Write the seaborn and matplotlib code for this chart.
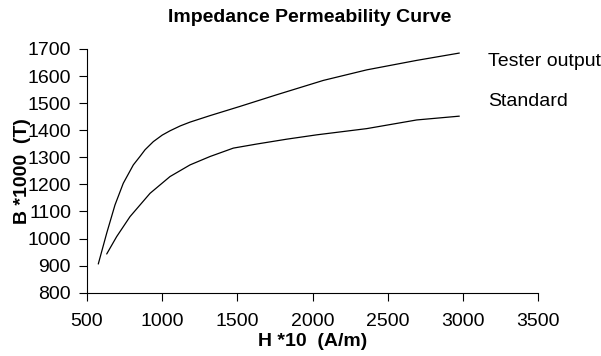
import numpy as np
import pandas as pd
import matplotlib
matplotlib.use('Agg')
import matplotlib.pyplot as plt
import seaborn as sns

# values
tester_h = [575, 631, 686, 741, 808, 852, 886, 941, 1000, 1052, 1120, 1185, 1318, 1517, 1761, 2071, 2360, 2692, 2975]
tester_b = [906, 1020, 1124, 1204, 1272, 1303, 1328, 1358, 1382, 1398, 1416, 1430, 1454, 1488, 1531, 1584, 1623, 1658, 1685]

standard_h = [631, 697, 786, 919, 1052, 1185, 1318, 1473, 1628, 1828, 2027, 2360, 2692, 2975]
standard_b = [943, 1007, 1081, 1167, 1229, 1272, 1303, 1334, 1349, 1367, 1383, 1406, 1438, 1452]

x_ticks = [500, 1000, 1500, 2000, 2500, 3000, 3500]
y_ticks = [800, 900, 1000, 1100, 1200, 1300, 1400, 1500, 1600, 1700]

df = pd.concat([
    pd.DataFrame({'H': tester_h, 'B': tester_b, 'series': 'Tester output'}),
    pd.DataFrame({'H': standard_h, 'B': standard_b, 'series': 'Standard'}),
])

sns.set_style('ticks')
plt.rcParams['font.family'] = ['Liberation Sans', 'DejaVu Sans']
plt.rcParams['text.color'] = 'black'
plt.rcParams['axes.labelcolor'] = 'black'
plt.rcParams['xtick.color'] = 'black'
plt.rcParams['ytick.color'] = 'black'

fig = plt.figure(figsize=(6.01, 3.56), dpi=100)
ax = fig.add_axes([87 / 601, 1 - 292.7 / 356, 451.3 / 601, 243.7 / 356])

sns.lineplot(data=df, x='H', y='B', units='series', estimator=None, sort=False,
             color='black', linewidth=0.9, ax=ax, legend=False)

ax.set_xlim(500, 3500)
ax.set_ylim(800, 1700)
ax.set_xticks(x_ticks)
ax.set_yticks(y_ticks)
ax.tick_params(axis='both', labelsize=14, length=5.5, width=0.8, colors='black',
               direction='out')
ax.tick_params(axis='y', pad=6)
ax.tick_params(axis='x', pad=9)
sns.despine(ax=ax)
for s in ['left', 'bottom']:
    ax.spines[s].set_color('black')
    ax.spines[s].set_linewidth(0.8)

ax.set_xlabel('H *10  (A/m)', fontsize=14, fontweight='bold')
ax.set_ylabel('B *1000  (T)', fontsize=14, fontweight='bold')
ax.xaxis.set_label_coords(0.5, -0.165)
ax.yaxis.set_label_coords(-0.125, 0.5)

fig.text(310 / 601, 1 - 18 / 356, 'Impedance Permeability Curve', fontsize=14,
         fontweight='bold', ha='center', va='center')

# series labels at the line ends
ax.text(3166, 1653, 'Tester output', fontsize=14, va='center', ha='left')
ax.text(3166, 1505, 'Standard', fontsize=14, va='center', ha='left')

fig.savefig('out.png', dpi=100)
